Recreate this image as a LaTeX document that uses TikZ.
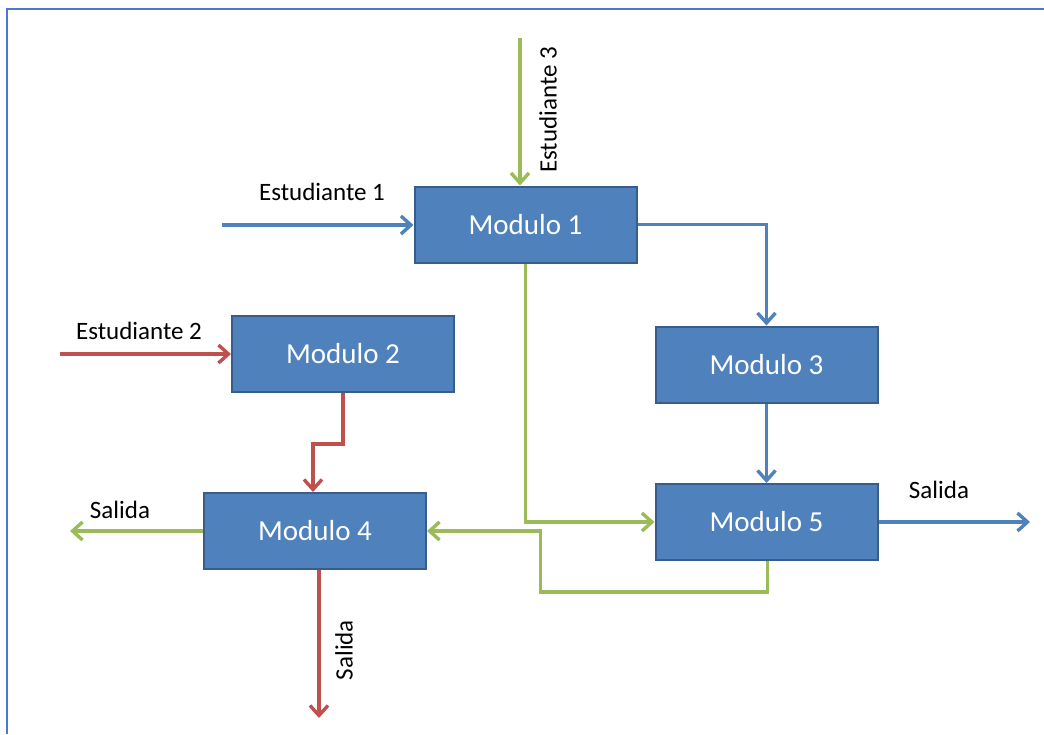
\documentclass[tikz,border=0pt]{standalone}
\usepackage{fontspec}
\setmainfont{Carlito}
\usetikzlibrary{arrows.meta}
\definecolor{modfill}{HTML}{4F81BD}
\definecolor{modedge}{HTML}{385D8A}
\definecolor{linkblue}{HTML}{4F81BD}
\definecolor{linkred}{HTML}{C0504D}
\definecolor{linkgreen}{HTML}{9BBB59}
\definecolor{framecol}{HTML}{4A78D0}
\begin{document}
\begin{tikzpicture}[x=1pt,y=-1pt,
  module/.style={draw=modedge, fill=modfill, line width=2pt,
    minimum width=222pt, minimum height=76pt, inner sep=0pt,
    text=white, font=\fontsize{29}{34}\selectfont},
  lbl/.style={font=\fontsize{25}{30}\selectfont, text=black, inner sep=0pt},
  flow/.style={line width=3.4pt, -{Straight Barb[length=10pt,width=18pt]}},
]
\useasboundingbox (0,0) rectangle (1044,734);
% page frame
\draw[framecol, line width=2.5pt] (7,734) -- (7,9) -- (1044,9);

% modules
\node[module] (m1) at (525.5,224.5) {Modulo 1};
\node[module] (m2) at (343,354) {Modulo 2};
\node[module] (m3) at (766.5,364.5) {Modulo 3};
\node[module] (m4) at (315,531) {Modulo 4};
\node[module] (m5) at (766.5,522) {Modulo 5};

% free ends of inputs and outputs
\coordinate (in3) at (520,38);
\coordinate (in1) at (222,225);
\coordinate (in2) at (60,354);
\coordinate (out5) at (1030,522);
\coordinate (out4l) at (70,531);
\coordinate (out4d) at (319,718);

% inputs
\draw[flow, linkgreen] (in3) -- (in3 |- m1.north);
\draw[flow, linkblue] (in1) -- (in1 -| m1.west);
\draw[flow, linkred] (in2) -- (in2 -| m2.west);

% internal flows
\draw[flow, linkblue] (m1.east) -| (m3.north);
\draw[flow, linkgreen] (m1.south) |- (m5.west);
\draw[flow, linkblue] (m3.south) -- (m5.north);
\draw[flow, linkred] (m2.south) -- ++(0,51) -| ([xshift=-2pt]m4.north);
\draw[flow, linkgreen] ([xshift=1pt]m5.south) -- ++(0,31) -- ++(-227,0) |- (m4.east);

% outputs
\draw[flow, linkblue] (m5.east) -- (out5);
\draw[flow, linkgreen] (m4.west) -- (out4l);
\draw[flow, linkred] ([xshift=4pt]m4.south) -- (out4d);

% labels
\node[lbl] (l1) at (322,192) {Estudiante 1};
\node[lbl] (l2) at (139,331) {Estudiante 2};
\node[lbl, rotate=90] (l3) at (548,110) {Estudiante 3};
\node[lbl] (s5) at (939,490) {Salida};
\node[lbl] (s4l) at (120,510) {Salida};
\node[lbl, rotate=90] (s4d) at (344,650) {Salida};
\end{tikzpicture}
\end{document}
